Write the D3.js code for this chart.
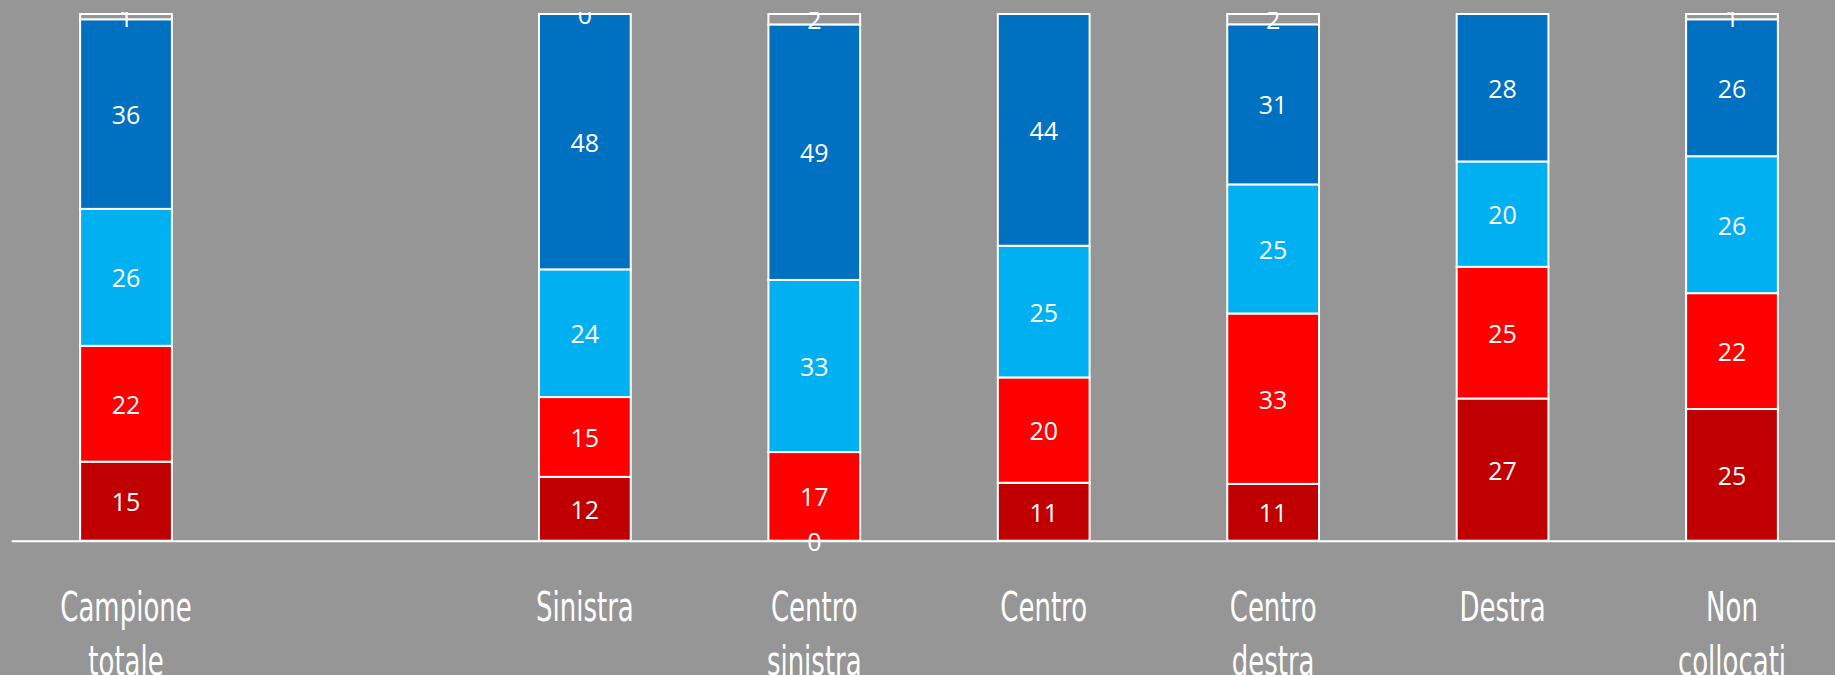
<!DOCTYPE html>
<html>
<head>
<meta charset="utf-8">
<script src="https://cdn.jsdelivr.net/npm/d3@7"></script>
<style>
  body { margin: 0; background: #969696; overflow: hidden; }
</style>
</head>
<body>
<div id="chart"></div>
<script>

// categories (one empty slot between the total and the groups)
var categories = ["Campione totale", "", "Sinistra", "Centro sinistra", "Centro", "Centro destra", "Destra", "Non collocati"];

// series values, bottom to top (null = no value shown)
var serie1 = [15, null, 12, 0, 11, 11, 27, 25];
var serie2 = [22, null, 15, 17, 20, 33, 25, 22];
var serie3 = [26, null, 24, 33, 25, 25, 20, 26];
var serie4 = [36, null, 48, 49, 44, 31, 28, 26];
var serie5 = [1, null, 0, 2, null, 2, null, 1];

var keys = ["s1", "s2", "s3", "s4", "s5"];
var colors = ["#C00000", "#FF0000", "#00B0F0", "#0070C0", "#969696"];

// build the table for d3.stack
var table = categories.map(function(c, i) {
  return {cat: c, s1: serie1[i], s2: serie2[i], s3: serie3[i], s4: serie4[i], s5: serie5[i]};
});

var width = 1835, height = 675;

var svg = d3.select("#chart")
  .append("svg")
    .attr("width", width)
    .attr("height", height);

// clip the labels at the top of the plot area
svg.append("clipPath")
    .attr("id", "plotclip")
  .append("rect")
    .attr("x", 0)
    .attr("y", 12)
    .attr("width", width)
    .attr("height", height);

// X axis
var x = d3.scaleBand()
  .domain(categories)
  .range([11.3, 1846.7])
  .paddingInner(0.6)
  .paddingOuter(0.3);

// Y axis, 100% stacked
var y = d3.scaleLinear()
  .domain([0, 1])
  .range([540.7, 14]);

var stacked = d3.stack()
  .keys(keys)
  .value(function(d, key) { return d[key] == null ? 0 : d[key]; })
  .offset(d3.stackOffsetExpand)(table.filter(function(d) { return d.cat !== ""; }));

var color = d3.scaleOrdinal()
  .domain(keys)
  .range(colors);

// Bars
svg.append("g")
  .selectAll("g")
  .data(stacked)
  .enter()
  .append("g")
    .attr("fill", function(d) { return color(d.key); })
  .selectAll("rect")
  .data(function(d) { return d; })
  .enter()
  .append("rect")
    .attr("x", function(d) { return x(d.data.cat); })
    .attr("y", function(d) { return y(d[1]); })
    .attr("width", x.bandwidth())
    .attr("height", function(d) { return y(d[0]) - y(d[1]); })
    .style("stroke", "white")
    .style("stroke-width", 2);

// axis line + category labels
var xAxis = svg.append("g")
  .attr("transform", "translate(0," + y(0) + ")")
  .call(d3.axisBottom(x).tickSize(0).tickSizeOuter(0));

xAxis.select(".domain")
  .style("stroke", "white")
  .style("stroke-width", 2);

// condensed look: squeeze the text horizontally
xAxis.selectAll(".tick text")
  .attr("y", 80)
  .attr("dy", null)
  .attr("transform", "scale(0.65,1)")
  .style("fill", "white")
  .style("font-family", "'DejaVu Sans', sans-serif")
  .style("font-size", "40px")
  .each(function(d) {
    var t = d3.select(this);
    var words = d.split(" ");
    t.text(null);
    words.forEach(function(w, i) {
      t.append("tspan")
        .attr("x", 0)
        .attr("dy", i === 0 ? 0 : 54)
        .text(w);
    });
  });

// value labels
var labels = svg.append("g")
  .attr("clip-path", "url(#plotclip)");

stacked.forEach(function(s) {
  labels.selectAll(null)
    .data(s.filter(function(d) { return d.data[s.key] != null; }))
    .enter()
    .append("text")
      .attr("x", function(d) { return x(d.data.cat) + x.bandwidth() / 2; })
      .attr("y", function(d) { return (y(d[0]) + y(d[1])) / 2; })
      .attr("text-anchor", "middle")
      .attr("dominant-baseline", "central")
      .style("fill", "white")
      .style("font-family", "'Open Sans', sans-serif")
      .style("font-size", "25px")
      .text(function(d) { return d.data[s.key]; });
});

</script>
</body>
</html>
